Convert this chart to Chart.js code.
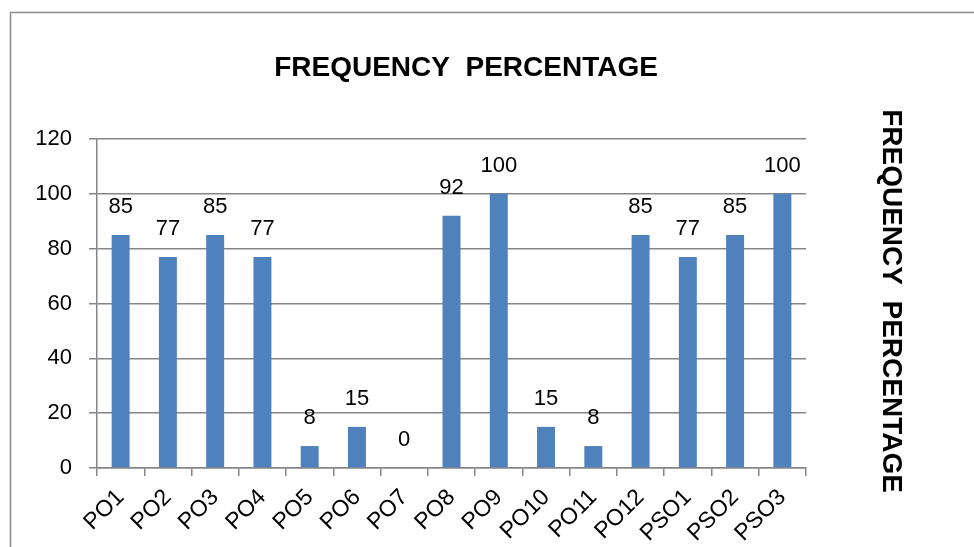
<!DOCTYPE html>
<html>
<head>
<meta charset="utf-8">
<script src="https://cdn.jsdelivr.net/npm/chart.js@4.4.0/dist/chart.umd.min.js"></script>
<style>
  html, body { margin: 0; padding: 0; background: #fff; }
  #wrap { width: 974px; height: 547px; }
</style>
</head>
<body>
<div id="wrap"><canvas id="barChart"></canvas></div>
<script>
// data
let categories = ['PO1', 'PO2', 'PO3', 'PO4', 'PO5', 'PO6', 'PO7', 'PO8', 'PO9', 'PO10', 'PO11', 'PO12', 'PSO1', 'PSO2', 'PSO3']
let values = [85, 77, 85, 77, 8, 15, 0, 92, 100, 15, 8, 85, 77, 85, 100]
let yTicks = [0, 20, 40, 60, 80, 100, 120]

let TITLE = 'FREQUENCY  PERCENTAGE'
let FONT = "'Liberation Sans', Arial, sans-serif"

// frame, titles and the value labels on top of the bars
let decor = {
    id: 'decor',
    beforeDraw(chart) {
        let ctx = chart.ctx
        ctx.save()
        ctx.strokeStyle = '#8c8c8c'
        ctx.lineWidth = 1.5
        ctx.strokeRect(10.5, 12.5, 1000, 600)
        ctx.restore()
    },
    afterDatasetsDraw(chart) {
        let ctx = chart.ctx
        let meta = chart.getDatasetMeta(0)
        ctx.save()
        ctx.fillStyle = '#000'
        ctx.font = '22px ' + FONT
        ctx.textAlign = 'center'
        ctx.textBaseline = 'middle'
        meta.data.forEach(function (bar, i) {
            ctx.fillText(String(values[i]), bar.x, bar.y - 28)
        })

        ctx.font = 'bold 28px ' + FONT
        ctx.fillText(TITLE, 466, 68)

        ctx.translate(891, 301)
        ctx.rotate(Math.PI / 2)
        ctx.fillText(TITLE, 0, 0)
        ctx.restore()
    }
}

new Chart(document.getElementById('barChart'), {
    type: 'bar',
    data: {
        labels: categories,
        datasets: [
            {
                label: 'Frequency',
                backgroundColor: '#4F81BD',
                data: values,
                barPercentage: 0.38,
                categoryPercentage: 1
            }
        ]
    },
    options: {
        responsive: true,
        maintainAspectRatio: false,
        animation: false,
        layout: {
            padding: { top: 139, right: 168, left: 0, bottom: 0 }
        },
        plugins: {
            legend: { display: false },
            tooltip: { enabled: false }
        },
        scales: {
            x: {
                afterFit: function (s) { s.height = 79 },
                border: { color: '#868686', width: 1.5 },
                grid: {
                    offset: true,
                    drawOnChartArea: false,
                    drawTicks: true,
                    tickLength: 8,
                    color: '#868686',
                    lineWidth: 1.5
                },
                ticks: {
                    color: '#000',
                    font: { size: 23, family: FONT },
                    minRotation: 45,
                    maxRotation: 45,
                    padding: 8
                }
            },
            y: {
                min: 0,
                max: 120,
                afterFit: function (s) { s.width = 97 },
                afterBuildTicks: function (s) {
                    s.ticks = yTicks.map(function (v) { return { value: v } })
                },
                border: { color: '#868686', width: 1.5 },
                grid: {
                    color: '#868686',
                    lineWidth: 1.5,
                    tickLength: 8
                },
                ticks: {
                    color: '#000',
                    font: { size: 22, family: FONT },
                    padding: 17
                }
            }
        }
    },
    plugins: [decor]
})
</script>
</body>
</html>
